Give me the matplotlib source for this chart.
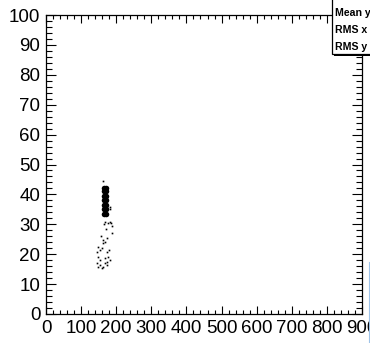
import matplotlib
matplotlib.use("Agg")
import matplotlib.pyplot as plt
from matplotlib.patches import Rectangle
from matplotlib.lines import Line2D
from matplotlib.ticker import MultipleLocator

# Dense core of the distribution (saturated region)
core_x = [164, 170, 164, 170, 164, 170, 164, 170, 164, 170, 164, 170, 164, 170]
core_y = [33.5, 33.5, 35.0, 35.0, 36.5, 36.5, 38.0, 38.0, 39.5, 39.5,
          41.0, 41.0, 42.3, 42.3]

# Sparse entries around the core and in the tail
tail_x = [163, 182, 182, 168, 177, 182, 166, 184, 189, 187, 173, 163, 161, 168,
          149, 159, 154, 146, 173, 149, 154, 168, 177, 182, 173, 144, 154, 163,
          173, 159, 149, 168, 158, 170, 180]
tail_y = [44.6, 35.8, 35.0, 30.8, 30.4, 30.8, 30.0, 30.3, 29.4, 27.0, 25.3, 24.7,
          23.6, 24.2, 22.5, 22.0, 21.4, 20.8, 20.8, 19.2, 18.1, 18.6, 19.0, 18.1,
          17.5, 17.0, 16.4, 15.8, 16.4, 15.3, 15.8, 17.0, 26.0, 28.5, 21.5]

x_ticks = [0, 100, 200, 300, 400, 500, 600, 700, 800, 900]
y_ticks = [0, 10, 20, 30, 40, 50, 60, 70, 80, 90, 100]

W, H = 370, 343
fig = plt.figure(figsize=(W / 100, H / 100), dpi=100)
fig.patch.set_facecolor("white")

left, right, bottom, top = 46, 362, 314, 15
ax = fig.add_axes([left / W, (H - bottom) / H, (right - left) / W, (bottom - top) / H])

ax.plot(core_x, core_y, linestyle="none", marker="o", markersize=4.0,
        color="black", markeredgewidth=0)
ax.plot(tail_x, tail_y, linestyle="none", marker="s", markersize=1.2,
        color="black", markeredgewidth=0)

ax.set_xlim(0, 900)
ax.set_ylim(0, 100)
ax.set_xticks(x_ticks)
ax.set_yticks(y_ticks)
ax.xaxis.set_minor_locator(MultipleLocator(20))
ax.yaxis.set_minor_locator(MultipleLocator(2))

font = "Liberation Sans"
ax.tick_params(axis="both", which="both", direction="in", top=True, right=True,
               width=0.8, colors="black")
ax.tick_params(axis="x", which="major", length=6, pad=4.5)
ax.tick_params(axis="x", which="minor", length=3)
ax.tick_params(axis="y", which="major", length=7.5, pad=4)
ax.tick_params(axis="y", which="minor", length=4)
for lab in ax.get_xticklabels() + ax.get_yticklabels():
    lab.set_fontfamily(font)
    lab.set_fontsize(13.5)
for sp in ax.spines.values():
    sp.set_linewidth(0.9)

# Statistics box in the top-right corner (runs past the right edge)
bx, by = 332, 54
fig.patches.append(Rectangle(((bx + 2) / W, (H - by - 2) / H), 1, 1,
                             transform=fig.transFigure, facecolor="black",
                             edgecolor="black", linewidth=0, zorder=5))
fig.patches.append(Rectangle((bx / W, (H - by) / H), 1, 1,
                             transform=fig.transFigure, facecolor="white",
                             edgecolor="black", linewidth=0.9, zorder=6))
for label, ypx in [("Mean y", 12.5), ("RMS x", 30), ("RMS y", 47)]:
    fig.text(335 / W, (H - ypx) / H, label, fontsize=7.6, fontweight="bold",
             family=font, va="center", ha="left", zorder=7)

# Edge of a neighbouring panel
fig.add_artist(Line2D([369 / W, 369 / W], [0, (H - 262) / H],
                      transform=fig.transFigure, color="#9fc3e8", linewidth=0.8))

fig.savefig("out.png", dpi=100)
